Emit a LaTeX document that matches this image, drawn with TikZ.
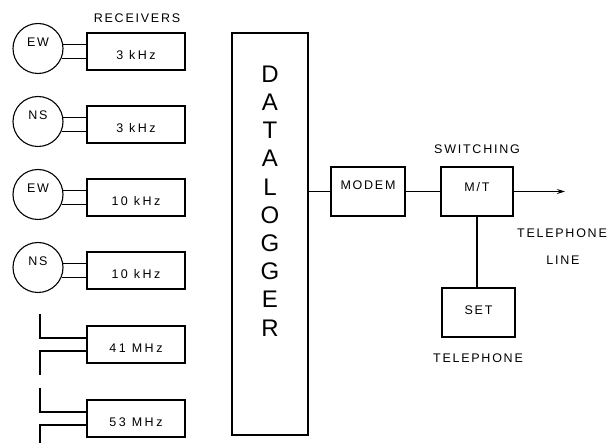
\documentclass[tikz,border=0pt]{standalone}
\usepackage{fontspec}
\setmainfont{Liberation Sans}[LetterSpace=14]
\newfontfamily\widefont{Liberation Sans}[LetterSpace=20]
\usetikzlibrary{calc,arrows.meta}
\begin{document}
\begin{tikzpicture}[x=1pt,y=-1pt,
  every node/.style={font=\fontsize{12.5}{14}\selectfont, inner sep=0pt},
  wire/.style={line width=1.1pt},
  rx/.style={draw, line width=1.1pt, minimum width=98pt, minimum height=37pt},
  rxlabel/.style={font=\widefont\fontsize{12.5}{14}\selectfont},
  sensor/.style={draw, circle, line width=1.1pt, minimum size=50pt},
  blk/.style={draw, line width=1.1pt, minimum height=49pt},
  big/.style={font=\fontsize{24}{24}\selectfont}]
\useasboundingbox (0,0) rectangle (611,443);
% datalogger
\node[draw, line width=1.1pt, minimum width=76pt, minimum height=402pt] (dl) at (270,234) {};
\foreach \l [count=\i] in {D,A,T,A,L,O,G,G,E,R}{
  \node[big] (dlt\i) at (270,{74+(\i-1)*28.2}) {\l};
}
% receivers
\node (rcv) at (137,18) {RECEIVERS};
\foreach \i/\t/\lab in {1/33/3 kHz,2/106/3 kHz,3/179/10 kHz,4/252/10 kHz,5/326/41 MHz,6/400/53 MHz}{
  \node[rx] (b\i) at (136,{\t+18.5}) {};
  \node[rxlabel] (bt\i) at ($(b\i)+(0,3.5)$) {\lab};
  \draw[wire] ($(b\i.east)+(0,-6.5)$) -- ($(b\i.east)+(0,-6.5)$ -| dl.west);
}
\foreach \i/\lab in {1/EW,2/NS,3/EW,4/NS}{
  \node[sensor] (c\i) at ($(b\i)+(-98,-3)$) {};
  \node (ct\i) at ($(c\i)+(0,-6.5)$) {\lab};
  \draw[wire] (c\i.8) -- (c\i.8 -| b\i.west);
  \draw[wire] (c\i.-22) -- (c\i.-22 -| b\i.west);
}
% antennas
\coordinate (a5t) at (40,314);
\coordinate (a5b) at (40,375);
\coordinate (a6t) at (40,388);
\coordinate (a6b) at (40,443);
\draw[wire] (a5t) |- ($(b5.west)+(0,-6.5)$);
\draw[wire] (a5b) |- ($(b5.west)+(0,6.5)$);
\draw[wire] (a6t) |- ($(b6.west)+(0,-6.5)$);
\draw[wire] (a6b) |- ($(b6.west)+(0,6.5)$);
% modem and switching
\node[blk, minimum width=74pt] (modem) at (368,191.5) {};
\node (modemt) at ($(modem)+(0,-6.5)$) {MODEM};
\node[blk, minimum width=72pt] (mt) at (477,191.5) {};
\node (mtt) at ($(mt)+(0,-4.5)$) {M/T};
\node (sw) at (477,149) {SWITCHING};
\node[blk, minimum width=73pt] (set) at (478.5,312.5) {};
\node (sett) at ($(set)+(0,-2.5)$) {SET};
\node (tel) at (478,358) {TELEPHONE};
\node (tl1) at (562,233) {TELEPHONE};
\node (tl2) at (563,260) {LINE};
\coordinate (lineend) at (565,191.5);
\draw[wire] (dl.east |- modem.west) -- (modem.west);
\draw[wire] (modem.east) -- (mt.west);
\draw[wire, -{Stealth[length=8pt,width=5pt]}] (mt.east) -- (lineend);
\draw[wire] (mt.south) -- (mt.south |- set.north);
\end{tikzpicture}
\end{document}
